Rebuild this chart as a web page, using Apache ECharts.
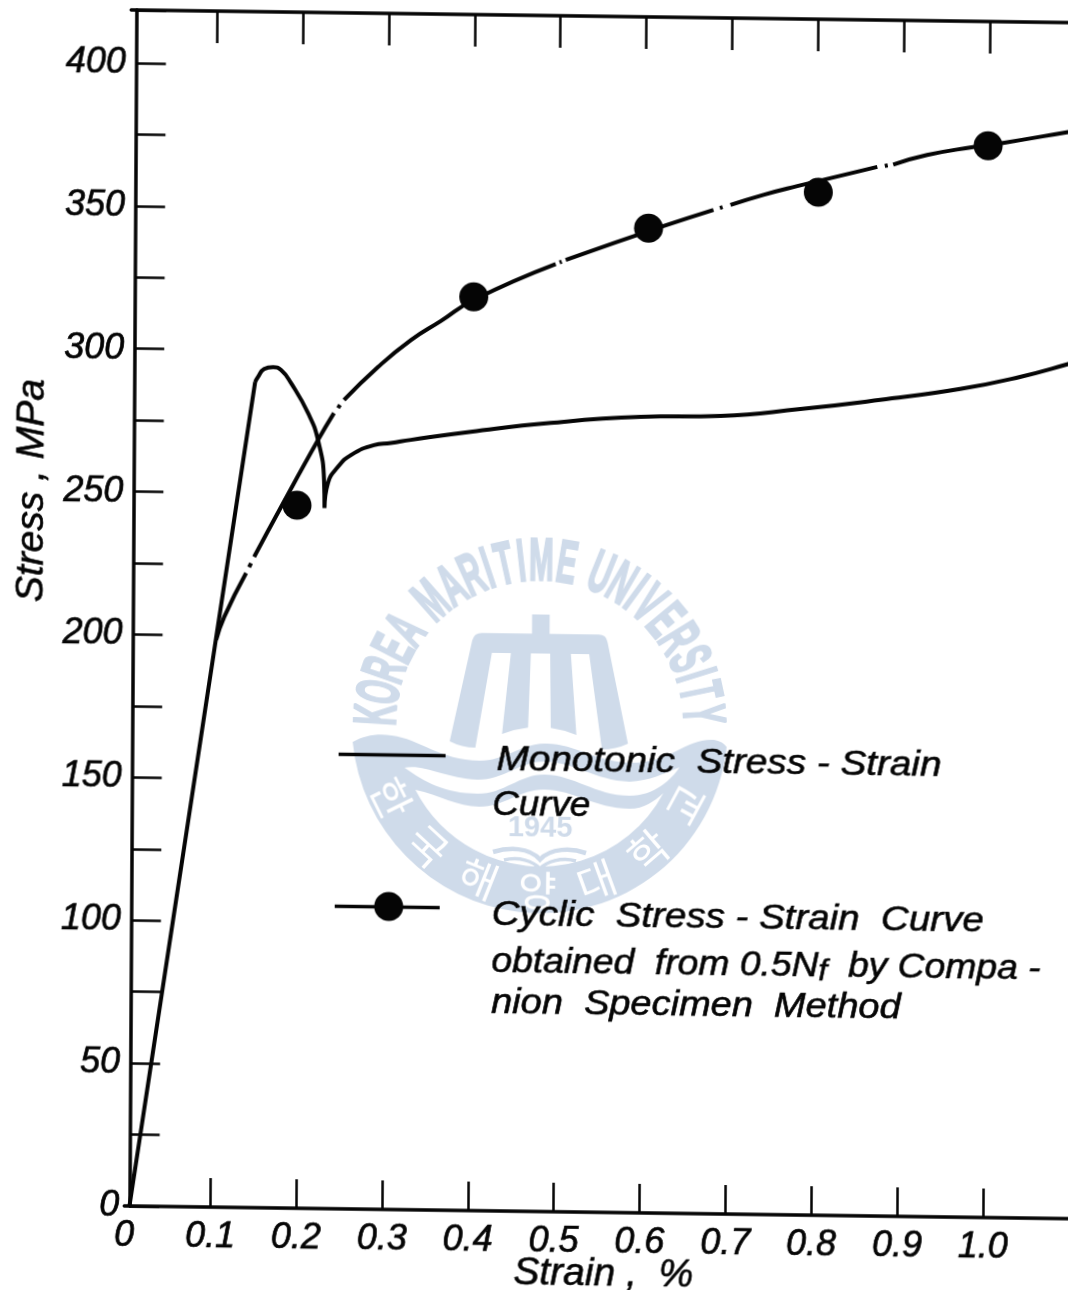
<!DOCTYPE html>
<html>
<head>
<meta charset="utf-8">
<style>
html,body{margin:0;padding:0;background:#fff;width:1068px;height:1290px;overflow:hidden}
#chart{width:1110px;height:1330px;transform-origin:128px 1206px;transform:matrix(1,0.0135,-0.0058,1,0,0)}
</style>
<script src="https://cdn.jsdelivr.net/npm/echarts@6/dist/echarts.min.js"></script>
</head>
<body>
<div id="chart"></div>
<script>
const xTickValues = [0.1,0.2,0.3,0.4,0.5,0.6,0.7,0.8,0.9,1.0];
const xLabelValues = [0,0.1,0.2,0.3,0.4,0.5,0.6,0.7,0.8,0.9,1.0];
const yLabelValues = [0,50,100,150,200,250,300,350,400];
const xTitle = 'Strain ,  %';
const yTitle = 'Stress , MPa';
const monotonicName = 'Monotonic Stress-Strain Curve';
const cyclicName = 'Cyclic Stress-Strain Curve obtained from 0.5Nf by Companion Specimen Method';

// Monotonic curve: elastic line, yield drop, then hardening
const monotonicElastic = [[0.006,0],[0.1468,288.9]];
const monotonicPeak = [[0.1468,288.9],[0.1502,290.7],[0.1571,293.5],[0.1676,294.2],[0.1769,293.2],[0.1886,288.7],[0.2086,278.3],[0.2204,268.9],[0.2277,254.9],[0.2284,245.1]];
const monotonicPlateau = [[0.2284,245.1],[0.2323,253.9],[0.2438,259.6],[0.2589,263.8],[0.2856,267.4],[0.3053,268.2],[0.3286,269.4],[0.3983,272.5],[0.4913,276],[0.5958,278.5],[0.6888,279.2],[0.7819,282],[0.8748,285.6],[0.9678,289.8],[1.0374,294.3],[1.0931,299],[1.1,299.8]];

// Cyclic curve pieces (the scanned line has small breaks with specks in them)
const cyclicA = [[0.1032,198.5],[0.1123,206.5],[0.1376,222]];
const cyclicSpeckA = [[0.141,224.1],[0.1433,225.5]];
const cyclicB = [[0.1468,227.7],[0.1778,245.3],[0.2204,268.9],[0.2388,278.4]];
const cyclicSpeckB = [[0.2435,280.2],[0.2458,281.3]];
const cyclicC = [[0.2504,283],[0.2897,294.7],[0.3279,304.3],[0.3626,311.1],[0.4009,318.7],[0.496,331.6]];
const cyclicSpeckC = [[0.5005,332.2],[0.503,332.5]];
const cyclicD = [[0.5076,333.1],[0.6213,345.4],[0.6793,351.3]];
const cyclicSpeckD = [[0.6868,352],[0.6899,352.3]];
const cyclicE = [[0.6991,353.1],[0.7374,356.8],[0.7768,360],[0.8698,367.1]];
const cyclicSpeckE = [[0.8785,367.5],[0.882,367.7]];
const cyclicF = [[0.8883,368],[0.9278,371.5],[0.9812,374.5],[1.0161,376.1],[1.0916,380.2],[1.1,380.7]];
const cyclicPoints = [[0.1964,246],[0.4008,319.7],[0.6039,344.6],[0.8013,358],[0.9987,375]];

const ink = '#050505';
const mark = '#cfdbea';
const latin = '"Liberation Sans", Arial, sans-serif';
const narrow = '"Liberation Sans Narrow", "Liberation Sans", sans-serif';

function withBreaks(parts){
  const out = [];
  parts.forEach((p,i)=>{ if(i) out.push([null,null]); p.forEach(q=>out.push(q)); });
  return out;
}
function pathEl(name,d,style){
  echarts.graphic.registerShape(name, echarts.graphic.extendPath(d,{}));
  return {type:name,style:style};
}

// --- Watermark (seal) drawn as graphic elements
const cx = 540, cy = 725;
const ringText = 'KOREA MARITIME UNIVERSITY'.split('');
const ringWidth = c => c==='I'?0.5 : c===' '?0.55 : (c==='M'||c==='W')?1.25 : 1;
const seal = [];
(function(){
  const total = ringText.reduce((a,c)=>a+ringWidth(c),0) - 0.8;
  let run = ringWidth(ringText[0])/2 - 0.5;
  ringText.forEach((c,i)=>{
    const frac = run/total;
    const a = -Math.PI + Math.PI*(0.015 + 0.97*frac);
    const r = 161;
    if(c!==' ') seal.push({type:'text',
      x:cx+r*Math.cos(a), y:cy+r*Math.sin(a), rotation:-(a+Math.PI/2), scaleX:0.74, scaleY:1.5,
      style:{text:c,fill:mark,stroke:mark,lineWidth:1.6,font:'bold 40px '+latin,textAlign:'center',textVerticalAlign:'middle'}});
    if(i<ringText.length-1) run += (ringWidth(c)+ringWidth(ringText[i+1]))/2;
  });
})();
seal.push(pathEl('sealTower','M531.7,615 L549.3,615 L549.3,634.3 L598.3,634.3 Q606,634.3 607.3,641.7 L628.3,743 Q616,749 602.3,749 L589,654 L570.7,654 L576.7,735 Q564,730 551,728.3 L550,654 L530.7,654 L528.3,728.3 Q515,730 502.3,735 L510.7,654 L491.7,654 L475.7,749 Q462,749 450,743 L472,641.7 Q474,634.3 481.7,634.3 L531.7,634.3 Z',{fill:mark}));
seal.push(pathEl('sealBand','M353,745 C365,738 378,736 392,738 C420,741 440,762 480,762 C505,762 520,745 545,744 C575,743 595,762 632,762 C670,762 685,738 712,738 C718,738 723,740 727,745 A188,188 0 0 1 353,745 Z',{fill:mark}));
seal.push(pathEl('sealWave','M405,770 C425,766 445,780 478,781 C505,781 520,762 545,762 C575,762 595,780 630,781 C650,780 665,772 680,766 C672,778 655,795 630,795 C595,795 575,775 545,775 C520,775 505,795 478,795 C445,795 425,784 405,770 Z',{fill:'#fff'}));
seal.push(pathEl('sealInner','M416,792 C440,797 458,808 480,808 C505,808 520,790 545,790 C575,790 595,808 630,808 C645,808 655,800 664,792 A140,140 0 0 1 416,792 Z',{fill:'#fff'}));
seal.push({type:'text',x:541,y:829,style:{text:'1945',fill:mark,font:'bold 29px '+latin,textAlign:'center',textVerticalAlign:'middle'}});
seal.push(pathEl('sealBookA','M494,853 C510,848 530,848 541,860 C552,848 572,848 587,853',{fill:null,stroke:mark,lineWidth:4.5}));
seal.push(pathEl('sealBookB','M505,861 C520,857 534,862 541,869 C548,862 562,857 577,861',{fill:null,stroke:mark,lineWidth:3.5}));
'한국해양대학교'.split('').forEach((c,i)=>{
  const deg = 153 - i*(125/6);
  const a = deg*Math.PI/180, r = 166;
  seal.push({type:'text',x:cx+r*Math.cos(a),y:cy+r*Math.sin(a),rotation:-(a-Math.PI/2),
    style:{text:c,fill:'#fff',font:'42px "Noto Sans CJK KR"',textAlign:'center',textVerticalAlign:'middle'}});
});

// --- Hand-placed legend, as in the figure
const legendText = (x,y,text,sx,extra)=>({type:'text',x:x,y:y,scaleX:sx,z:30,style:Object.assign({text:text,fill:ink,stroke:ink,lineWidth:0.6,font:'italic 35px '+latin,textAlign:'left',textVerticalAlign:'middle'},extra||{})});
const legend = [
  {type:'line',z:30,shape:{x1:336,y1:751.5,x2:443,y2:751.5},style:{stroke:ink,lineWidth:3.5}},
  legendText(494,755,'Monotonic  Stress - Strain',1.105),
  legendText(490,800,'Curve',1.05),
  {type:'line',z:30,shape:{x1:333,y1:903.5,x2:438,y2:903.5},style:{stroke:ink,lineWidth:3.5}},
  {type:'circle',z:30,shape:{cx:387,cy:903,r:14.5},style:{fill:ink}},
  legendText(490,910,'Cyclic  Stress - Strain  Curve',1.1),
  legendText(490,957,'obtained  from 0.5N{sub|f}  by Compa -',1.064,{rich:{sub:{font:'italic 30px '+latin,fill:ink,verticalAlign:'bottom',padding:[12,0,0,0]}}}),
  legendText(490,998,'nion  Specimen  Method',1.085)
];

const chart = echarts.init(document.getElementById('chart'));
chart.setOption({
  animation:false,
  backgroundColor:'#fff',
  grid:{left:123,top:10,width:946,height:1196,containLabel:false},
  graphic:[
    {type:'group',x:-3,y:-6,z:-1,silent:true,children:seal.map(e=>Object.assign({z:-1},e))},
    {type:'group',silent:true,z:30,children:legend}
  ],
  xAxis:[{
    type:'value',position:'bottom',min:0,max:1.1,interval:0.1,
    name:xTitle,nameLocation:'middle',nameGap:43,nameMoveOverlap:false,
    nameTextStyle:{color:ink,fontFamily:latin,fontStyle:'italic',fontSize:39,textBorderColor:ink,textBorderWidth:0.6,padding:[0,0,0,14]},
    axisLine:{show:true,onZero:false,lineStyle:{color:ink,width:3.5}},
    axisTick:{show:true,inside:true,length:29,customValues:xTickValues,lineStyle:{color:ink,width:2.5}},
    axisLabel:{show:true,margin:12,color:ink,fontFamily:narrow,fontStyle:'italic',fontSize:36,textBorderColor:ink,textBorderWidth:0.7,customValues:xLabelValues,
      formatter:v=>v===0?'0':v.toFixed(1)},
    splitLine:{show:false}
  },{
    type:'value',position:'top',min:0,max:1.1,interval:0.1,
    axisLine:{show:true,onZero:false,lineStyle:{color:ink,width:3.5}},
    axisTick:{show:true,inside:true,length:32,customValues:xTickValues,lineStyle:{color:ink,width:2.5}},
    axisLabel:{show:false},splitLine:{show:false}
  }],
  yAxis:{
    type:'value',min:0,max:418.5,interval:25,offset:-5,
    name:yTitle,nameLocation:'middle',nameGap:82,nameRotate:90,nameMoveOverlap:false,
    nameTextStyle:{color:ink,fontFamily:latin,fontStyle:'italic',fontSize:39,textBorderColor:ink,textBorderWidth:0.6,padding:[0,0,0,232]},
    axisLine:{show:true,onZero:false,lineStyle:{color:ink,width:3.5}},
    axisTick:{show:true,inside:true,length:30,lineStyle:{color:ink,width:2.5}},
    axisLabel:{show:true,margin:10,color:ink,fontFamily:narrow,fontStyle:'italic',fontSize:36,textBorderColor:ink,textBorderWidth:0.7,customValues:yLabelValues},
    splitLine:{show:false}
  },
  series:[
    {name:monotonicName,type:'line',xAxisIndex:0,symbol:'none',smooth:0.5,connectNulls:false,z:5,
     lineStyle:{color:ink,width:4},data:withBreaks([monotonicElastic,monotonicPeak,monotonicPlateau])},
    {name:cyclicName,type:'line',xAxisIndex:0,symbol:'none',smooth:0.5,connectNulls:false,z:6,
     lineStyle:{color:ink,width:4},data:withBreaks([cyclicA,cyclicSpeckA,cyclicB,cyclicSpeckB,cyclicC,cyclicSpeckC,cyclicD,cyclicSpeckD,cyclicE,cyclicSpeckE,cyclicF])},
    {name:cyclicName+' points',type:'scatter',xAxisIndex:0,symbol:'circle',symbolSize:29,z:7,
     itemStyle:{color:ink,opacity:1},data:cyclicPoints}
  ]
});
</script>
</body>
</html>
